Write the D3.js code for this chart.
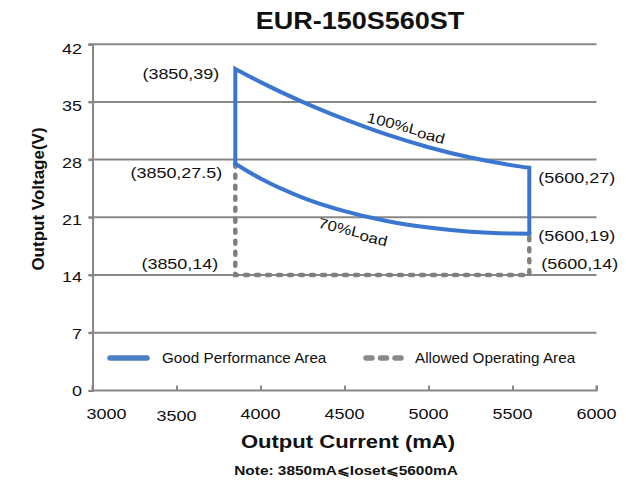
<!DOCTYPE html>
<html><head><meta charset="utf-8">
<script src="https://cdn.jsdelivr.net/npm/d3@7"></script>
<style>body{margin:0;background:#fff}svg{display:block}text{font-family:"Liberation Sans",Arial,sans-serif}</style>
</head><body>
<svg id="c" width="626" height="485"></svg>
<script>
// ---- data ----
const title = "EUR-150S560ST";
const xTicks = [3000, 3500, 4000, 4500, 5000, 5500, 6000];
const yTicks = [0, 7, 14, 21, 28, 35, 42];
const loadFull = [[3850,39],[4000,37.4],[4250,35.0],[4500,32.9],[4750,31.05],[5000,29.5],[5250,28.25],[5500,27.3],[5600,27]];
const load70 = [[3850,27.5],[4000,25.7],[4250,23.4],[4500,21.75],[4750,20.55],[5000,19.75],[5250,19.25],[5500,19.03],[5600,19]];
const allowed = [[3850,27.5],[3850,14],[5600,14],[5600,19]];
const pointLabels = [
  {p:[3850,39], t:"(3850,39)", side:"left"},
  {p:[3850,27.5], t:"(3850,27.5)", side:"left"},
  {p:[3850,14], t:"(3850,14)", side:"left"},
  {p:[5600,27], t:"(5600,27)", side:"right"},
  {p:[5600,19], t:"(5600,19)", side:"right"},
  {p:[5600,14], t:"(5600,14)", side:"right"}
];
const legendNames = ["Good Performance Area", "Allowed Operating Area"];
const xTitle = "Output Current (mA)";
const yTitle = "Output Voltage(V)";
const note = "Note:  3850mA\u2A7DIoset\u2A7D5600mA";

// ---- drawing ----
const svg = d3.select("#c");
const x = d3.scaleLinear().domain([3000, 6000]).range([92.5, 596.5]);
const y = d3.scaleLinear().domain([0, 42]).range([390.4, 44.2]);
const grey = "#878787", blue = "#3a76cf", ink = "#111";
const SX = 1.16; // horizontal stretch of the reference's lettering

function stext(g, tx, ty, str, size, opts = {}) {
  const t = g.append("text")
    .attr("transform", `translate(${tx},${ty})` + (opts.rot ? ` rotate(${opts.rot})` : "") + ` scale(${opts.sx || SX},1)`)
    .attr("text-anchor", opts.anchor || "start")
    .attr("font-size", size).attr("fill", ink);
  if (opts.bold) t.attr("font-weight", "bold");
  if (opts.html) t.html(str); else t.text(str);
  return t;
}

// gridlines
svg.append("g").selectAll("line").data(yTicks.filter(d => d > 0)).join("line")
  .attr("x1", x(3000) - 4).attr("x2", x(6000))
  .attr("y1", d => y(d)).attr("y2", d => y(d))
  .attr("stroke", grey).attr("stroke-width", 2);

// y axis
const ya = svg.append("g").attr("transform", `translate(${x(3000)},0)`)
  .call(d3.axisLeft(y).tickValues(yTicks).tickSize(4).tickFormat(""));
ya.select(".domain").attr("stroke", grey).attr("stroke-width", 2);
ya.selectAll(".tick line").attr("stroke", grey).attr("stroke-width", 2);
const yl = svg.append("g");
yTicks.forEach(v => stext(yl, 82, y(v) + 5.5 + v * 0.11, String(v), 15.5, {anchor: "end"}));

// x axis (ticks pointing up)
const xa = svg.append("g").attr("transform", `translate(0,${y(0)})`)
  .call(d3.axisBottom(x).tickValues(xTicks).tickSize(-5).tickFormat(""));
xa.select(".domain").attr("stroke", grey).attr("stroke-width", 2).attr("d", `M${x(3000)},-5V0H${x(6000)}V-5`);
xa.selectAll(".tick line").attr("stroke", grey).attr("stroke-width", 2);
const xl = svg.append("g");
xTicks.forEach((v, i) => stext(xl, x(v) + (i === 0 ? 14 : 0), y(0) + 29 + (i === 1 ? 2 : 0), String(v), 15.5, {anchor: "middle"}));

// allowed operating area (dashed)
svg.append("path").attr("d", d3.line().x(d => x(d[0])).y(d => y(d[1]))(allowed))
  .attr("fill", "none").attr("stroke", "#7f7f7f").attr("stroke-width", 4.5)
  .attr("stroke-dasharray", "3,8").attr("stroke-linecap", "round");

// good performance area
const curve = d3.line().x(d => x(d[0])).y(d => y(d[1])).curve(d3.curveMonotoneX);
const topStr = curve(loadFull);
const first70 = load70[0], last70 = load70[load70.length - 1];
svg.append("path")
  .attr("d", `M${x(first70[0])},${y(first70[1])}` + topStr.replace(/^M/, "L") + `L${x(last70[0])},${y(last70[1])}`)
  .attr("fill", "none").attr("stroke", blue).attr("stroke-width", 4).attr("stroke-linejoin", "miter");
svg.append("path").attr("d", curve(load70))
  .attr("fill", "none").attr("stroke", blue).attr("stroke-width", 4).attr("stroke-linecap", "square");

// point labels
const labOff = {"39": [-16, 10], "27.5": [-13, 14], "14": [-17, -6], "27": [9, 15], "19": [9, 7], "14r": [12, -6]};
const pl = svg.append("g");
pointLabels.forEach(d => {
  const key = d.side === "right" && d.p[1] === 14 ? "14r" : String(d.p[1]);
  const o = labOff[key];
  stext(pl, x(d.p[0]) + o[0], y(d.p[1]) + o[1], d.t, 15.5, {anchor: d.side === "left" ? "end" : "start"});
});

// curve labels
stext(svg, 405, 132, '100%L<tspan dy="2">oad</tspan>', 14.5, {anchor: "middle", rot: 14.5, html: true});
stext(svg, 352, 236, '70%L<tspan dy="2">oad</tspan>', 14.5, {anchor: "middle", rot: 14, html: true});

// legend
const lg = svg.append("g");
lg.append("line").attr("x1", 110).attr("x2", 147).attr("y1", 358).attr("y2", 358)
  .attr("stroke", "#4a7fc4").attr("stroke-width", 5.5).attr("stroke-linecap", "round");
stext(lg, 162, 363, legendNames[0], 14, {sx: 1.09});
lg.append("line").attr("x1", 366).attr("x2", 404).attr("y1", 358).attr("y2", 358)
  .attr("stroke", "#898989").attr("stroke-width", 5.5).attr("stroke-linecap", "round").attr("stroke-dasharray", "6,8.5");
stext(lg, 415, 363, legendNames[1], 14, {sx: 1.09});

// titles
stext(svg, 360, 28.5, title, 23.3, {anchor: "middle", bold: true});
stext(svg, 348, 448, xTitle, 19, {anchor: "middle", bold: true});
stext(svg, 44, 199, yTitle, 17, {anchor: "middle", bold: true, rot: -90, sx: 1});
stext(svg, 346, 475, note, 13.3, {anchor: "middle", bold: true});
</script>
</body></html>
